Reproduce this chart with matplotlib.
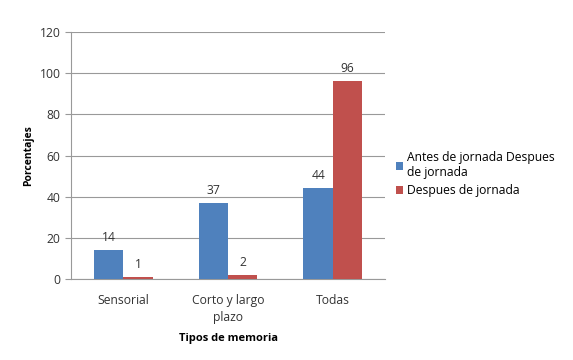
import matplotlib.pyplot as plt
import numpy as np

categories = ['Sensorial', 'Corto y largo\nplazo', 'Todas']
antes = [14, 37, 44]
despues = [1, 2, 96]
series_names = ['Antes de jornada Despues\nde jornada', 'Despues de jornada']
yticks = [0, 20, 40, 60, 80, 100, 120]

plt.rcParams['font.family'] = ['Open Sans', 'DejaVu Sans']
plt.rcParams['font.size'] = 8.7

fig = plt.figure(figsize=(5.73, 3.6), dpi=100)
ax = fig.add_axes([0.124, 0.225, 0.548, 0.686])

x = np.arange(len(categories))
w = 0.28
b1 = ax.bar(x - w / 2, antes, w, color='#4F81BD', label=series_names[0], zorder=3)
b2 = ax.bar(x + w / 2, despues, w, color='#C0504D', label=series_names[1], zorder=3)

for bars, vals in ((b1, antes), (b2, despues)):
    for r, v in zip(bars, vals):
        ax.text(r.get_x() + r.get_width() / 2, v + 3, str(v),
                ha='center', va='bottom', color='#333333')

ax.set_xlim(-0.5, 2.5)
ax.set_ylim(0, 120)
ax.set_yticks(yticks)
ax.set_xticks(x)
ax.set_xticklabels(categories, color='#333333', linespacing=1.4)
ax.tick_params(axis='y', colors='#333333', length=4, color='#999999')
ax.tick_params(axis='x', length=0, pad=11)
ax.yaxis.grid(True, color='#999999', linewidth=0.8, zorder=0)
for s in ('top', 'right'):
    ax.spines[s].set_visible(False)
ax.spines['left'].set_color('#999999')
ax.spines['bottom'].set_color('#999999')

ax.set_ylabel('Porcentajes', fontweight='bold', fontsize=7.5, labelpad=4)
ax.set_xlabel('Tipos de memoria', fontweight='bold', fontsize=8, labelpad=6)

ax.legend(loc='center left', bbox_to_anchor=(1.0, 0.425), frameon=False,
          handlelength=0.6, handleheight=0.6, handletextpad=0.3,
          labelspacing=0.4, fontsize=8.7)

fig.savefig('out.png', dpi=100)
